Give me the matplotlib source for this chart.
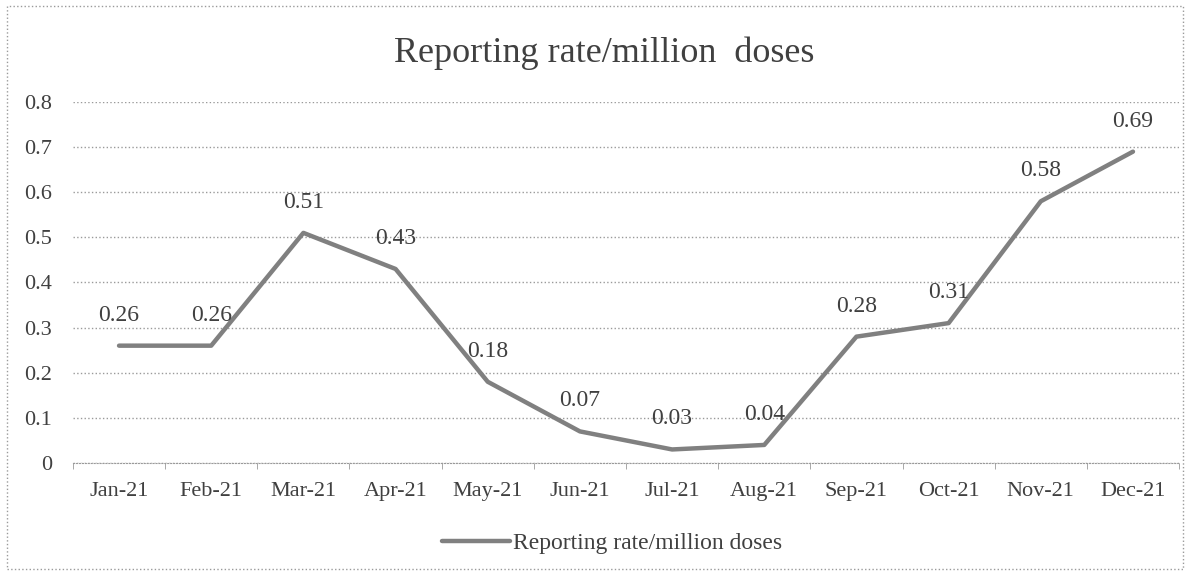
import matplotlib
matplotlib.use("Agg")
import matplotlib.pyplot as plt
import numpy as np
from matplotlib.patches import Rectangle

months = ["Jan-21", "Feb-21", "Mar-21", "Apr-21", "May-21", "Jun-21",
          "Jul-21", "Aug-21", "Sep-21", "Oct-21", "Nov-21", "Dec-21"]
rate = [0.26, 0.26, 0.51, 0.43, 0.18, 0.07, 0.03, 0.04, 0.28, 0.31, 0.58, 0.69]
series_name = "Reporting rate/million doses"
title = "Reporting rate/million  doses"

plt.rcParams['font.family'] = ['Liberation Serif', 'DejaVu Serif']

fig = plt.figure(figsize=(11.9, 5.75), dpi=100)
ax = fig.add_axes([0.0613, 0.1948, 0.9295, 0.6278])

x = np.arange(len(months))
ax.plot(x, rate, color='#808080', lw=3.2, solid_joinstyle='round',
        solid_capstyle='round', label=series_name)

for xi, v in zip(x, rate):
    ax.annotate(f"{v:.2f}", (xi, v), xytext=(0, 22), textcoords='offset points',
                ha='center', va='center', fontsize=17, color='#404040')

ax.set_xlim(-0.5, len(months) - 0.5)
ax.set_ylim(0, 0.8)
ax.set_yticks(np.arange(0, 0.81, 0.1))
ax.set_yticklabels(["0", "0.1", "0.2", "0.3", "0.4", "0.5", "0.6", "0.7", "0.8"])
ax.yaxis.grid(True, linestyle=':', color='#9a9a9a', lw=1)
ax.set_axisbelow(True)

ax.set_xticks(x)
ax.set_xticklabels(months)
ax.set_xticks(np.arange(-0.5, len(months), 1), minor=True)
ax.tick_params(axis='x', which='major', length=0, pad=14, labelsize=16, labelcolor='#404040')
ax.tick_params(axis='x', which='minor', length=4, color='#9a9a9a', direction='out')
ax.tick_params(axis='y', length=0, pad=15, labelsize=16, labelcolor='#404040')

for s in ['top', 'right', 'left']:
    ax.spines[s].set_visible(False)
ax.spines['bottom'].set_color('#9a9a9a')
ax.spines['bottom'].set_linestyle(':')

fig.text(0.508, 0.908, title, ha='center', va='center', fontsize=26, color='#404040')

fig.legend(loc='center', bbox_to_anchor=(0.514, 0.055), frameon=False, fontsize=17,
           handlelength=2.9, handletextpad=0.1, labelcolor='#404040')

fig.add_artist(Rectangle((0.006, 0.01), 0.988, 0.98, transform=fig.transFigure,
                         fill=False, linestyle=':', edgecolor='#9a9a9a', lw=1))

fig.savefig("out.png", dpi=100)
